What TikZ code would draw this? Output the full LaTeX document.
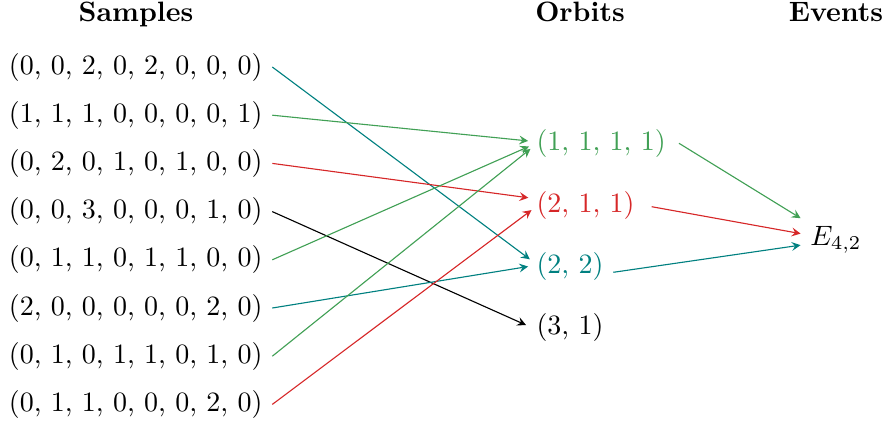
\documentclass[tikz,border=0pt]{standalone}
\usetikzlibrary{arrows}
\definecolor{mygreen}{RGB}{65,160,85}
\definecolor{myred}{RGB}{214,39,40}
\definecolor{myteal}{RGB}{0,128,128}
\begin{document}
\begin{tikzpicture}[x=0.35714pt,y=-0.35714pt,
  samp/.style={anchor=east},
  orb/.style={anchor=west},
  head/.style={anchor=base,font=\bfseries},
  conn/.style={-stealth},
  into/.style={-stealth,shorten >=#1}]
\useasboundingbox (0,0) rectangle (886,423);
% headers
\node[head] (hs) at (136,21.5) {Samples};
\node[head] (ho) at (580,21.5) {Orbits};
\node[head] (he) at (836,21.5) {Events};
% samples
\node[samp] (s1) at (272.3,67)    {(0, 0, 2, 0, 2, 0, 0, 0)};
\node[samp] (s2) at (272.3,115.2) {(1, 1, 1, 0, 0, 0, 0, 1)};
\node[samp] (s3) at (272.3,163.4) {(0, 2, 0, 1, 0, 1, 0, 0)};
\node[samp] (s4) at (272.3,211.6) {(0, 0, 3, 0, 0, 0, 1, 0)};
\node[samp] (s5) at (272.3,259.8) {(0, 1, 1, 0, 1, 1, 0, 0)};
\node[samp] (s6) at (272.3,308)   {(2, 0, 0, 0, 0, 0, 2, 0)};
\node[samp] (s7) at (272.3,356.2) {(0, 1, 0, 1, 1, 0, 1, 0)};
\node[samp] (s8) at (272.3,404.4) {(0, 1, 1, 0, 0, 0, 2, 0)};
% orbits
\node[orb,text=mygreen] (o1) at (526.7,143.5) {(1, 1, 1, 1)};
\node[orb,text=myred]   (o2) at (526.7,205.5) {(2, 1, 1)};
\node[orb,text=myteal]  (o3) at (526.7,266.5) {(2, 2)};
\node[orb]              (o4) at (526.7,327)   {(3, 1)};
% arrow targets and starts
\coordinate (t1) at (539,142);
\coordinate (t2) at (545,200);
\coordinate (t3) at (537.5,265);
\coordinate (t4) at (534.2,328.7);
\coordinate (u1) at (679,143.3);
\coordinate (u2) at (651.7,206.7);
\coordinate (u3) at (613.3,272.3);
% event
\node (E) at (836,240) {$E_{4,2}$};
% sample -> orbit
\draw[into=3.4pt,myteal]  (s1.east) -- (t3);
\draw[into=3.9pt,mygreen] (s2.east) -- (t1);
\draw[into=6pt,myred]     (s3.east) -- (t2);
\draw[into=3.2pt,black]   (s4.east) -- (t4);
\draw[into=3.9pt,mygreen] (s5.east) -- (t1);
\draw[into=3.4pt,myteal]  (s6.east) -- (t3);
\draw[into=3.9pt,mygreen] (s7.east) -- (t1);
\draw[into=6pt,myred]     (s8.east) -- (t2);
% orbit -> event
\draw[conn,mygreen] (u1) -- (E);
\draw[conn,myred]   (u2) -- (E);
\draw[conn,myteal]  (u3) -- (E);
\end{tikzpicture}
\end{document}
